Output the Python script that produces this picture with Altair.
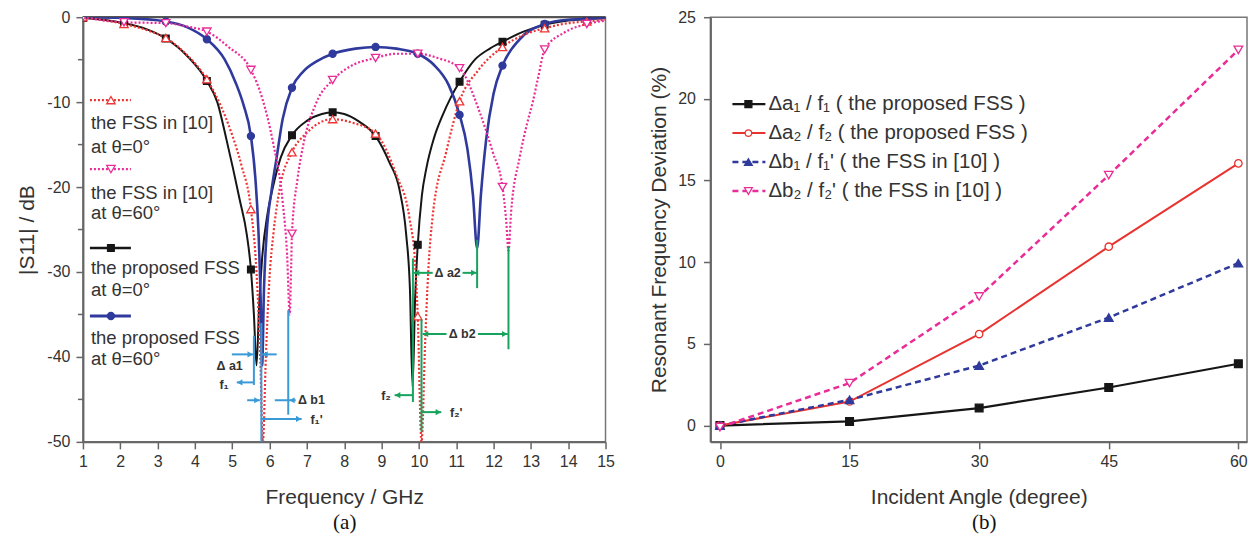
import altair as alt
import pandas as pd

FONT = "Liberation Sans"
SERIF = "Liberation Serif"
TXT = "#333333"
AXC = "#666666"

# ================= panel (a) data : |S11| vs frequency =================
A_X_TICKS = list(range(1, 16))
A_Y_TICKS = [-50, -40, -30, -20, -10, 0]
A_Y_MINOR = [-45, -35, -25, -15, -5]

MARK_F = [1.0, 2.1, 3.22, 4.32, 5.5, 6.6, 7.69, 8.84, 9.97, 11.09, 12.24, 13.37, 14.5]

BLACK_F = [1.0, 2.1, 2.7, 3.22, 3.8, 4.32, 4.6, 4.85, 5.02, 5.2, 5.39, 5.5, 5.58, 5.65, 5.72, 5.8,
           5.95, 6.08, 6.3, 6.6, 7.0, 7.4, 7.69, 8.0, 8.4, 8.84, 9.2, 9.48, 9.66, 9.76, 9.83, 9.9,
           9.97, 10.08, 10.2, 10.4, 10.64, 10.85, 11.09, 11.5, 11.9, 12.24, 12.8, 13.37, 14.0, 14.5, 15.0]
BLACK_DB = [-0.1, -0.7, -1.4, -2.5, -4.6, -7.5, -10.0, -14.5, -17.8, -21.5, -25.6, -29.7, -35.0, -41.0, -34.0, -28.4,
            -23.0, -20.2, -16.5, -13.9, -12.2, -11.4, -11.2, -11.4, -12.3, -14.0, -17.0, -20.3, -25.6, -32.0, -43.5, -33.0,
            -26.8, -21.0, -17.8, -14.3, -11.5, -9.5, -7.6, -5.0, -3.7, -2.9, -1.7, -0.9, -0.4, -0.2, -0.1]
BLACK_MK = [-0.1, -0.7, -2.5, -7.5, -29.7, -13.9, -11.2, -14.0, -26.8, -7.6, -2.9, -0.9, -0.2]

BLUE_F = [1.0, 2.1, 3.22, 3.8, 4.32, 4.8, 5.1, 5.3, 5.5, 5.62, 5.7, 5.76, 5.8, 5.85, 5.92, 6.05, 6.19,
          6.35, 6.6, 6.9, 7.26, 7.69, 8.3, 8.84, 9.4, 9.97, 10.4, 10.8, 11.09, 11.3, 11.45, 11.56, 11.66,
          11.8, 12.0, 12.24, 12.7, 13.37, 14.0, 14.5, 15.0]
BLUE_DB = [0.0, -0.1, -0.5, -1.2, -2.6, -5.0, -7.8, -10.3, -14.0, -19.0, -25.0, -33.0, -41.0, -32.0, -25.6, -20.5, -16.5,
           -12.0, -8.3, -6.4, -5.2, -4.3, -3.7, -3.5, -3.7, -4.3, -5.6, -8.0, -11.5, -15.5, -21.0, -27.2, -21.0,
           -14.5, -9.0, -5.7, -2.6, -0.8, -0.3, -0.2, -0.1]
BLUE_MK = [0.0, -0.1, -0.5, -2.6, -14.0, -8.3, -4.3, -3.5, -4.3, -11.5, -5.7, -0.8, -0.2]

RED_F = [1.0, 2.1, 2.7, 3.22, 3.8, 4.32, 4.7, 5.0, 5.25, 5.5, 5.65, 5.75, 5.82, 5.9, 6.0, 6.1, 6.27,
         6.6, 7.0, 7.69, 8.2, 8.84, 9.4, 9.75, 9.9, 9.97, 10.07, 10.17, 10.25, 10.37, 10.73, 11.09,
         11.6, 12.24, 12.8, 13.37, 14.0, 14.5, 15.0]
RED_DB = [0.0, -0.8, -1.5, -2.45, -4.5, -7.3, -10.5, -13.9, -17.5, -22.6, -30.0, -40.0, -50.0, -40.0, -30.5, -25.6, -20.2,
          -15.9, -13.6, -12.0, -12.4, -13.7, -18.6, -23.7, -29.0, -35.2, -50.0, -38.0, -30.0, -23.4, -15.9, -9.9,
          -6.2, -3.5, -2.1, -1.3, -0.7, -0.5, -0.3]
RED_MK = [0.0, -0.8, -2.45, -7.3, -22.6, -15.9, -12.0, -13.7, -35.2, -9.9, -3.5, -1.3, -0.5]

PINK_F = [1.0, 2.1, 3.22, 3.8, 4.32, 4.9, 5.5, 5.8, 6.09, 6.35, 6.47, 6.54, 6.58, 6.6, 6.75, 6.9, 7.26,
          7.69, 8.2, 8.84, 9.4, 9.97, 10.5, 11.09, 11.63, 11.98, 12.24, 12.34, 12.4, 12.47, 12.7, 12.9,
          13.05, 13.2, 13.37, 13.9, 14.5, 15.0]
PINK_DB = [0.0, -0.6, -0.7, -1.1, -1.7, -3.5, -6.2, -9.5, -14.7, -21.7, -28.0, -35.0, -29.0, -25.5, -19.0, -15.1, -10.0,
           -7.4, -5.7, -4.8, -4.3, -4.3, -4.8, -6.0, -11.2, -15.9, -20.0, -24.0, -27.5, -23.0, -16.5, -12.5,
           -10.0, -7.0, -3.8, -1.8, -0.8, -0.4]
PINK_MK = [0.0, -0.6, -0.7, -1.7, -6.2, -25.5, -7.4, -4.8, -4.3, -6.0, -20.0, -3.8, -0.8]

# annotation geometry in data units (GHz, dB)
BLUE_V_F = [5.58, 5.78, 6.5]
BLUE_V_TOP = [-37.5, -36.0, -34.5]
BLUE_V_BOT = [-43.3, -50.0, -46.8]
BLUE_SEG = [(4.99, 5.56, -39.7), (5.79, 6.19, -39.7), (5.12, 5.58, -43.0),
            (5.40, 5.74, -45.1), (6.14, 6.70, -45.1), (5.78, 6.86, -47.3)]
BLUE_HEAD = [(5.56, -39.7, "R"), (5.80, -39.7, "L"), (5.12, -43.0, "L"),
             (5.74, -45.1, "R"), (6.52, -45.1, "L"), (6.86, -47.3, "R")]
BLUE_LBL = [("Δ a1", 4.93, -41.1), ("f₁", 4.78, -43.3), ("Δ b1", 7.12, -45.1), ("f₁'", 7.26, -47.4)]

GREEN_V_F = [9.84, 10.07, 11.56, 12.40]
GREEN_V_TOP = [-28.4, -35.6, -26.2, -27.0]
GREEN_V_BOT = [-45.3, -48.8, -31.9, -39.1]
GREEN_SEG = [(9.86, 10.37, -30.1), (11.17, 11.55, -30.1), (10.10, 10.74, -37.3),
             (11.58, 12.38, -37.3), (9.35, 9.84, -44.5), (10.07, 10.60, -46.5)]
GREEN_HEAD = [(9.86, -30.1, "L"), (11.55, -30.1, "R"), (10.10, -37.3, "L"),
              (12.38, -37.3, "R"), (9.35, -44.5, "L"), (10.60, -46.5, "R")]
GREEN_LBL = [("Δ a2", 10.77, -30.1), ("Δ b2", 11.16, -37.3), ("f₂", 9.12, -44.6), ("f₂'", 11.0, -46.6)]

LEFT_LEGEND = [("the FSS in [10]", "at θ=0°"), ("the FSS in [10]", "at θ=60°"),
               ("the proposed FSS", "at θ=0°"), ("the proposed FSS", "at θ=60°")]

# ================= panel (b) data : deviation vs incident angle =================
ANGLES = [0, 15, 30, 45, 60]
DA1 = [0.0, 0.25, 1.07, 2.33, 3.78]
DA2 = [0.0, 1.47, 5.6, 10.95, 16.05]
DB1 = [0.0, 1.57, 3.67, 6.61, 9.94]
DB2 = [-0.1, 2.6, 7.9, 15.33, 23.0]
B_X_TICKS = [0, 15, 30, 45, 60]
B_Y_TICKS = [0, 5, 10, 15, 20, 25]
RIGHT_LEGEND = ["Δa₁ / f₁ ( the proposed FSS )", "Δa₂ / f₂ ( the proposed FSS )",
                "Δb₁ / f₁' ( the FSS in [10] )", "Δb₂ / f₂' ( the FSS in [10] )"]

# colours
C_BLACK = "#161616"
C_BLUE = "#2f3a9c"
C_RED = "#ee3434"
C_PINK = "#ea2c98"
C_LBLUE = "#3a9ad8"
C_GREEN = "#17a35e"

ONE = pd.DataFrame({"k": [0]})


def axis(title, values, label_pad, title_pad, expr=None):
    kw = dict(title=title, values=values, grid=False, tickSize=7, tickWidth=1.5, tickColor=AXC,
              domainColor=AXC, domainWidth=2, labelFont=FONT, labelFontSize=16, labelColor=TXT,
              labelPadding=label_pad, labelFlush=False, labelOverlap=False,
              titleFont=FONT, titleFontSize=21, titleFontWeight="normal", titleColor=TXT,
              titlePadding=title_pad)
    if expr:
        kw["labelExpr"] = expr
    return alt.Axis(**kw)


def px_rule(x1, x2, y, color, width, dash=None):
    kw = dict(color=color, strokeWidth=width)
    if dash:
        kw["strokeDash"] = dash
    return alt.Chart(ONE).mark_rule(**kw).encode(x=alt.value(x1), x2=alt.value(x2), y=alt.value(y))


def px_point(x, y, shape, size, fill, stroke, sw=1.3):
    return alt.Chart(ONE).mark_point(shape=shape, size=size, filled=True, fill=fill, stroke=stroke,
                                     strokeWidth=sw, opacity=1).encode(x=alt.value(x), y=alt.value(y))


def px_text(x, y, text, size, color=TXT, font=FONT, align="left", weight="normal"):
    return alt.Chart(ONE).mark_text(font=font, fontSize=size, color=color, align=align,
                                    baseline="middle", fontWeight=weight).encode(
        x=alt.value(x), y=alt.value(y), text=alt.value(text))


# ----------------------------- panel (a) -----------------------------
A_W, A_H = 523, 425
XA = alt.X("f:Q", scale=alt.Scale(domain=[1, 15], nice=False, zero=False),
           axis=axis("Frequency / GHz", A_X_TICKS, 5, 17))
YA = alt.Y("db:Q", scale=alt.Scale(domain=[-50, 0], nice=False, zero=False),
           axis=axis("|S11| / dB", A_Y_TICKS, 6, 9, "'' + datum.value"))

a_layers = []
# minor y ticks
a_layers.append(alt.Chart(pd.DataFrame({"db": A_Y_MINOR})).mark_rule(color=AXC, strokeWidth=1.5).encode(
    x=alt.value(-5), x2=alt.value(0), y=YA))
# darker top frame line (0 dB)
a_layers.append(px_rule(0, A_W, 0, "#555555", 2.2))

series_a = [
    (BLACK_F, BLACK_DB, BLACK_MK, C_BLACK, None, 2.0, "square", C_BLACK, 45),
    (BLUE_F, BLUE_DB, BLUE_MK, C_BLUE, None, 2.6, "circle", C_BLUE, 50),
    (RED_F, RED_DB, RED_MK, C_RED, [2, 2], 2.2, "triangle-up", "white", 70),
    (PINK_F, PINK_DB, PINK_MK, C_PINK, [2, 2], 2.2, "triangle-down", "white", 70),
]
for fs, dbs, mks, col, dash, w, shp, fill, sz in series_a:
    kw = dict(color=col, strokeWidth=w, interpolate="monotone", clip=True)
    if dash:
        kw["strokeDash"] = dash
    a_layers.append(alt.Chart(pd.DataFrame({"f": fs, "db": dbs})).mark_line(**kw).encode(x=XA, y=YA))
for fs, dbs, mks, col, dash, w, shp, fill, sz in series_a:
    a_layers.append(alt.Chart(pd.DataFrame({"f": MARK_F, "db": mks})).mark_point(
        shape=shp, size=sz, filled=True, fill=fill, stroke=col, strokeWidth=1.3, opacity=1,
        clip=True).encode(x=XA, y=YA))

# annotations
for vf, vt, vb, segs, heads, lbls, col in [
        (BLUE_V_F, BLUE_V_TOP, BLUE_V_BOT, BLUE_SEG, BLUE_HEAD, BLUE_LBL, C_LBLUE),
        (GREEN_V_F, GREEN_V_TOP, GREEN_V_BOT, GREEN_SEG, GREEN_HEAD, GREEN_LBL, C_GREEN)]:
    a_layers.append(alt.Chart(pd.DataFrame({"f": vf, "db": vt, "db2": vb})).mark_rule(
        color=col, strokeWidth=2).encode(x=XA, y=YA, y2="db2:Q"))
    a_layers.append(alt.Chart(pd.DataFrame({"f": [s[0] for s in segs], "f2": [s[1] for s in segs],
                                            "db": [s[2] for s in segs]})).mark_rule(
        color=col, strokeWidth=2).encode(x=XA, x2="f2:Q", y=YA))
    for d, shp, off in [("R", "triangle-right", -3), ("L", "triangle-left", 3)]:
        hs = [h for h in heads if h[2] == d]
        a_layers.append(alt.Chart(pd.DataFrame({"f": [h[0] for h in hs], "db": [h[1] for h in hs]})).mark_point(
            shape=shp, size=38, filled=True, color=col, opacity=1, xOffset=off).encode(x=XA, y=YA))
    a_layers.append(alt.Chart(pd.DataFrame({"t": [l[0] for l in lbls], "f": [l[1] for l in lbls],
                                            "db": [l[2] for l in lbls]})).mark_text(
        font=FONT, fontSize=12.5, fontWeight="bold", color=TXT, align="center", baseline="middle").encode(
        x=XA, y=YA, text="t:N"))

# legend of panel (a)  (pixel positions inside the plot)
leg_a = [
    (C_RED, [2, 2], 2.2, "triangle-up", "white", 70, 83, 106, 130),
    (C_PINK, [2, 2], 2.2, "triangle-down", "white", 70, 152, 176, 196),
    (C_BLACK, None, 2.6, "square", C_BLACK, 45, 231, 251, 273),
    (C_BLUE, None, 3.0, "circle", C_BLUE, 50, 299, 321, 342),
]
for i, (col, dash, w, shp, fill, sz, ys, y1, y2) in enumerate(leg_a):
    a_layers.append(px_rule(7, 48, ys, col, w, dash))
    a_layers.append(px_point(28, ys, shp, sz, fill, col))
    a_layers.append(px_text(8, y1, LEFT_LEGEND[i][0], 18.5))
    a_layers.append(px_text(8, y2, LEFT_LEGEND[i][1], 18.5))

a_layers.append(px_text(262, 506, "(a)", 21, "#111111", SERIF, "center"))

left = alt.layer(*a_layers).properties(width=A_W, height=A_H)

# ----------------------------- panel (b) -----------------------------
B_W, B_H = 537, 425
XB = alt.X("ang:Q", scale=alt.Scale(domain=[-1.1, 61], nice=False, zero=False),
           axis=axis("Incident Angle (degree)", B_X_TICKS, 5, 17))
YB = alt.Y("dev:Q", scale=alt.Scale(domain=[-1, 25], nice=False, zero=False),
           axis=axis("Resonant Frequency Deviation (%)", B_Y_TICKS, 8, 8))

series_b = [
    (DA1, C_BLACK, None, 2.2, "square", C_BLACK, 60),
    (DA2, "#e8332f", None, 2.0, "circle", "white", 55),
    (DB1, C_BLUE, [6, 4], 2.5, "triangle-up", C_BLUE, 75),
    (DB2, C_PINK, [6, 4], 2.5, "triangle-down", "white", 75),
]
b_layers = []
for vals, col, dash, w, shp, fill, sz in series_b:
    kw = dict(color=col, strokeWidth=w)
    if dash:
        kw["strokeDash"] = dash
    b_layers.append(alt.Chart(pd.DataFrame({"ang": ANGLES, "dev": vals})).mark_line(**kw).encode(x=XB, y=YB))
for vals, col, dash, w, shp, fill, sz in series_b:
    b_layers.append(alt.Chart(pd.DataFrame({"ang": ANGLES, "dev": vals})).mark_point(
        shape=shp, size=sz, filled=True, fill=fill, stroke=col, strokeWidth=1.3, opacity=1).encode(x=XB, y=YB))

for i, (vals, col, dash, w, shp, fill, sz) in enumerate(series_b):
    yy = 87 + 29 * i
    b_layers.append(px_rule(22, 55, yy, col, w, dash))
    b_layers.append(px_point(38, yy, shp, sz * 0.8, fill, col))
    b_layers.append(px_text(58, yy, RIGHT_LEGEND[i], 20.5))

b_layers.append(px_text(274, 506, "(b)", 21, "#111111", SERIF, "center"))

right = alt.layer(*b_layers).properties(width=B_W, height=B_H)

chart = alt.hconcat(left, right, spacing=32).properties(
    padding={"left": 8, "top": 0, "right": 0, "bottom": 0}
).configure_view(stroke="#777777", strokeWidth=1.5)

chart.save("out.html", embed_options={"renderer": "svg", "actions": False})
